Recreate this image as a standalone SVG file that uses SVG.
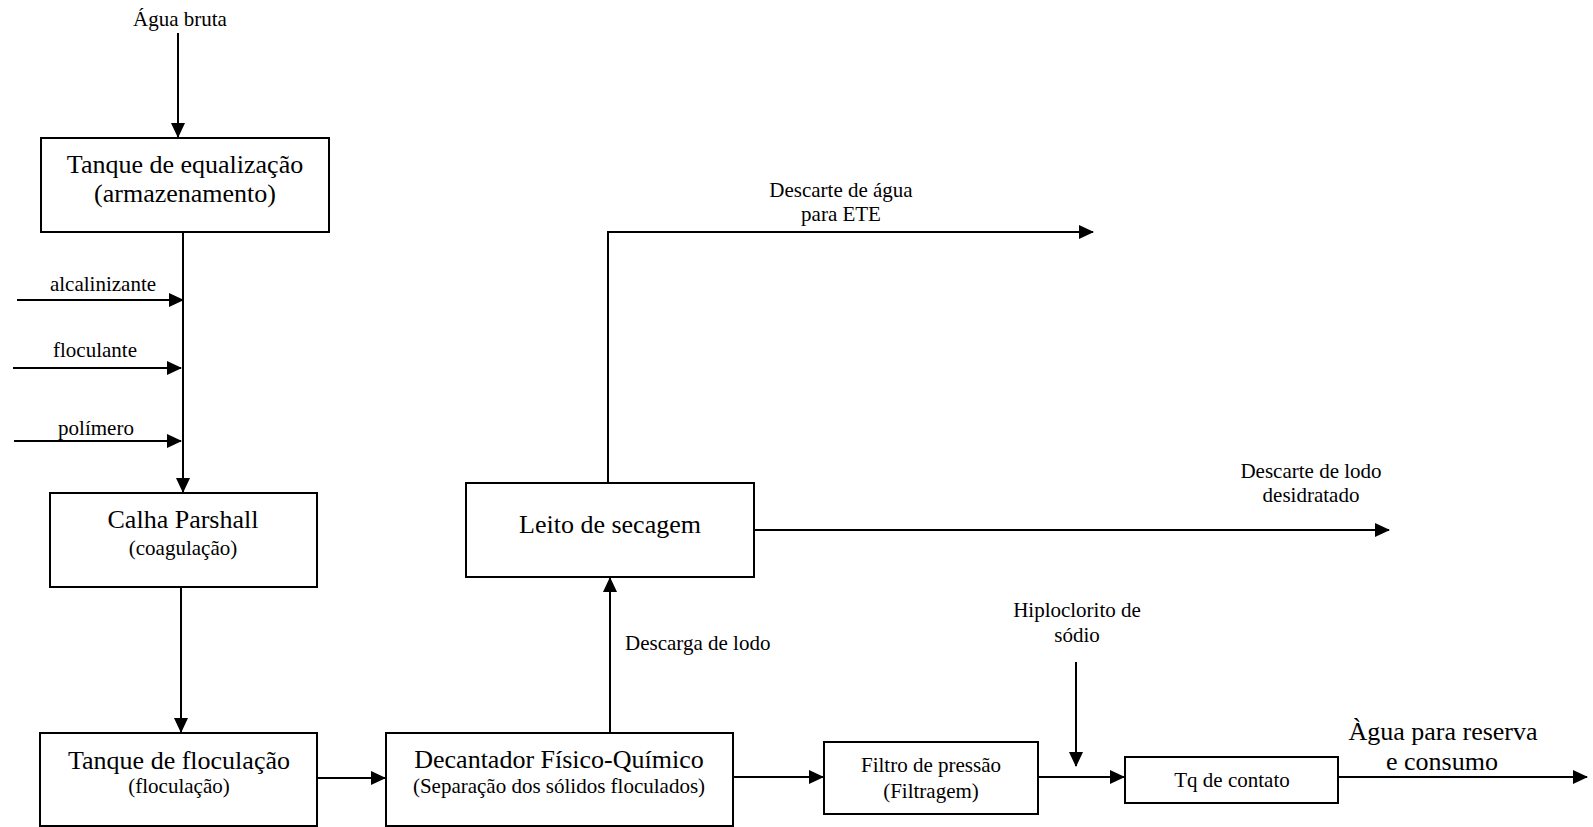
<svg xmlns="http://www.w3.org/2000/svg" width="1593" height="827" viewBox="0 0 1593 827" style="background:#fff">
<style>
text{font-family:"Liberation Serif","Times New Roman",serif;fill:#000}
.b{font-size:26px}
.s{font-size:21px}
.m{text-anchor:middle}
.n rect{fill:#fff;stroke:#000;stroke-width:2}
.c line,.c path{stroke:#000;stroke-width:2;fill:none}
</style>
<defs>
<marker id="ah" markerUnits="userSpaceOnUse" markerWidth="15" markerHeight="14" refX="14" refY="7" orient="auto">
<path d="M0,0 L15,7 L0,14 z" fill="#000"/>
</marker>
</defs>
<g class="c" id="connectors">
<line x1="178" y1="33" x2="178" y2="137" marker-end="url(#ah)"/>
<line x1="183" y1="232" x2="183" y2="492" marker-end="url(#ah)"/>
<line x1="17" y1="300" x2="183" y2="300" marker-end="url(#ah)"/>
<line x1="13" y1="368" x2="181" y2="368" marker-end="url(#ah)"/>
<line x1="14" y1="441" x2="181" y2="441" marker-end="url(#ah)"/>
<line x1="181" y1="587" x2="181" y2="732" marker-end="url(#ah)"/>
<line x1="317" y1="778" x2="385" y2="778" marker-end="url(#ah)"/>
<line x1="610" y1="733" x2="610" y2="578" marker-end="url(#ah)"/>
<path d="M608,483 L608,232 L1093,232" marker-end="url(#ah)"/>
<line x1="754" y1="530" x2="1389" y2="530" marker-end="url(#ah)"/>
<line x1="733" y1="777" x2="823" y2="777" marker-end="url(#ah)"/>
<line x1="1038" y1="777" x2="1124" y2="777" marker-end="url(#ah)"/>
<line x1="1076" y1="662" x2="1076" y2="766" marker-end="url(#ah)"/>
<line x1="1338" y1="777" x2="1587" y2="777" marker-end="url(#ah)"/>
</g>
<g id="labels">
<text class="s m" x="180" y="26">Água bruta</text>
<text class="s m" x="103" y="291">alcalinizante</text>
<text class="s m" x="95" y="357">floculante</text>
<text class="s m" x="96" y="435">polímero</text>
<text class="s" x="625" y="650">Descarga de lodo</text>
<text class="s m" x="841" y="197">Descarte de água</text>
<text class="s m" x="841" y="221">para ETE</text>
<text class="s m" x="1311" y="478">Descarte de lodo</text>
<text class="s m" x="1311" y="502">desidratado</text>
<text class="s m" x="1077" y="617">Hiploclorito de</text>
<text class="s m" x="1077" y="642">sódio</text>
<text class="b m" x="1443" y="740">Àgua para reserva</text>
<text class="b m" x="1442" y="770">e consumo</text>
</g>
<g id="n_equalizacao" class="n">
<rect x="41" y="138" width="288" height="94"/>
<text class="b m" x="185" y="173">Tanque de equalização</text>
<text class="b m" x="185" y="202">(armazenamento)</text>
</g>
<g id="n_parshall" class="n">
<rect x="50" y="493" width="267" height="94"/>
<text class="b m" x="183" y="528">Calha Parshall</text>
<text class="s m" x="183" y="555">(coagulação)</text>
</g>
<g id="n_floculacao" class="n">
<rect x="40" y="733" width="277" height="93"/>
<text class="b m" x="179" y="769">Tanque de floculação</text>
<text class="s m" x="179" y="793">(floculação)</text>
</g>
<g id="n_decantador" class="n">
<rect x="386" y="733" width="347" height="93"/>
<text class="b m" x="559" y="768">Decantador Físico-Químico</text>
<text class="s m" x="559" y="793">(Separação dos sólidos floculados)</text>
</g>
<g id="n_leito" class="n">
<rect x="466" y="483" width="288" height="94"/>
<text class="b m" x="610" y="533">Leito de secagem</text>
</g>
<g id="n_filtro" class="n">
<rect x="824" y="742" width="214" height="72"/>
<text class="s m" x="931" y="772">Filtro de pressão</text>
<text class="s m" x="931" y="798">(Filtragem)</text>
</g>
<g id="n_tq" class="n">
<rect x="1125" y="757" width="213" height="46"/>
<text class="s m" x="1232" y="787">Tq de contato</text>
</g>
</svg>
